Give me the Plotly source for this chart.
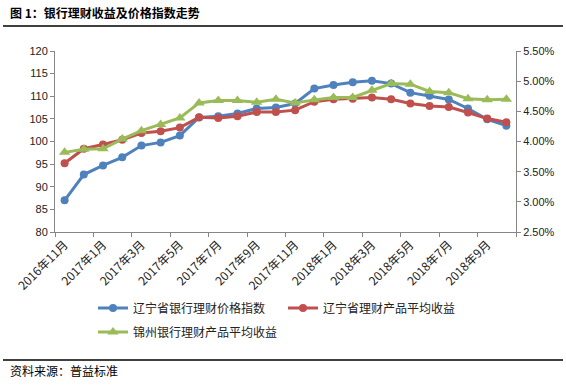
import plotly.graph_objects as go

months = ["2016年11月", "2016年12月",
          "2017年1月", "2017年2月", "2017年3月", "2017年4月", "2017年5月", "2017年6月",
          "2017年7月", "2017年8月", "2017年9月", "2017年10月", "2017年11月", "2017年12月",
          "2018年1月", "2018年2月", "2018年3月", "2018年4月", "2018年5月", "2018年6月",
          "2018年7月", "2018年8月", "2018年9月", "2018年10月"]

price_index = [87.0, 92.7, 94.7, 96.5, 99.1, 99.8, 101.3, 105.3, 105.6, 106.2, 107.3, 107.5,
               108.4, 111.7, 112.5, 113.1, 113.4, 112.8, 110.8, 110.1, 109.3, 107.3, 104.9, 103.5]

liaoning_yield = [3.64, 3.88, 3.95, 4.03, 4.14, 4.17, 4.23, 4.40, 4.39, 4.42, 4.49, 4.49,
                  4.52, 4.66, 4.70, 4.71, 4.73, 4.70, 4.63, 4.59, 4.57, 4.48, 4.38, 4.32]

jinzhou_yield = [3.82, 3.87, 3.88, 4.04, 4.18, 4.28, 4.39, 4.64, 4.68, 4.68, 4.65, 4.70,
                 4.64, 4.69, 4.73, 4.73, 4.85, 4.96, 4.95, 4.83, 4.81, 4.71, 4.69, 4.70]

tick_labels = months[::2]
series_names = ["辽宁省银行理财价格指数", "辽宁省理财产品平均收益", "锦州银行理财产品平均收益"]
colors = ["#4F81BD", "#C0504D", "#9BBB59"]

W, H = 566, 385
L, R, T, B = 55, 516, 51, 232


def px(x):
    return (x - L) / (R - L)


def py(y):
    return (B - y) / (B - T)


CJK = "Noto Sans CJK SC"
NUM = "Liberation Sans"

fig = go.Figure()
fig.add_trace(go.Scatter(x=months, y=price_index, name=series_names[0], mode="lines+markers",
                         line=dict(color=colors[0], width=3),
                         marker=dict(symbol="circle", size=8, color=colors[0]),
                         legend="legend"))
fig.add_trace(go.Scatter(x=months, y=liaoning_yield, name=series_names[1], mode="lines+markers",
                         line=dict(color=colors[1], width=3),
                         marker=dict(symbol="circle", size=8, color=colors[1]),
                         yaxis="y2", legend="legend"))
fig.add_trace(go.Scatter(x=months, y=jinzhou_yield, name=series_names[2], mode="lines+markers",
                         line=dict(color=colors[2], width=3),
                         marker=dict(symbol="triangle-up", size=10, color=colors[2]),
                         yaxis="y2", legend="legend2"))
# invisible trace for boundary tick marks
fig.add_trace(go.Scatter(x=[0], y=[None], xaxis="x2", showlegend=False, hoverinfo="skip"))

axis_col = "#868686"
fig.update_layout(
    width=W, height=H,
    margin=dict(l=L, r=W - R, t=T, b=H - B),
    paper_bgcolor="white", plot_bgcolor="white",
    showlegend=True,
    xaxis=dict(type="category", categoryorder="array", categoryarray=months,
               range=[-0.5, len(months) - 0.5],
               tickvals=tick_labels, ticktext=tick_labels, tickangle=-45,
               ticks="", showgrid=False, zeroline=False,
               showline=True, linecolor=axis_col, linewidth=1,
               tickfont=dict(family=CJK, size=12, color="#222")),
    xaxis2=dict(overlaying="x", range=[-0.5, len(months) - 0.5],
                tickvals=[i - 0.5 for i in range(0, len(months) + 1, 2)],
                ticks="outside", ticklen=4, tickcolor=axis_col, showticklabels=False,
                showgrid=False, zeroline=False, showline=False, anchor="y", side="bottom"),
    yaxis=dict(range=[80, 120], dtick=5, tick0=80, ticks="outside", ticklen=4, tickcolor=axis_col,
               showgrid=False, zeroline=False, showline=True, linecolor=axis_col, linewidth=1,
               tickfont=dict(family=NUM, size=11, color="#222")),
    yaxis2=dict(range=[2.5, 5.5], dtick=0.5, tick0=2.5, tickformat=".2f", ticksuffix="%",
                overlaying="y", side="right", ticks="outside", ticklen=4, tickcolor=axis_col,
                showgrid=False, zeroline=False, showline=True, linecolor=axis_col, linewidth=1,
                tickfont=dict(family=NUM, size=11, color="#222")),
    legend=dict(orientation="h", x=px(93), y=py(308), xanchor="left", yanchor="middle",
                font=dict(family=CJK, size=12, color="#222"), entrywidth=145,
                bgcolor="rgba(0,0,0,0)"),
    legend2=dict(orientation="h", x=px(93), y=py(332), xanchor="left", yanchor="middle",
                 font=dict(family=CJK, size=12, color="#222"),
                 bgcolor="rgba(0,0,0,0)"),
    shapes=[
        dict(type="line", xref="paper", yref="paper", x0=px(3), x1=px(563), y0=py(26), y1=py(26),
             line=dict(color="black", width=1.5)),
        dict(type="line", xref="paper", yref="paper", x0=px(3), x1=px(563), y0=py(360), y1=py(360),
             line=dict(color="black", width=1.5)),
    ],
    annotations=[
        dict(text="<b>图 1：银行理财收益及价格指数走势</b>", xref="paper", yref="paper",
             x=px(8), y=py(12), xanchor="left", yanchor="middle", showarrow=False,
             font=dict(family=CJK, size=12, color="black")),
        dict(text="资料来源：普益标准", xref="paper", yref="paper",
             x=px(8), y=py(370), xanchor="left", yanchor="middle", showarrow=False,
             font=dict(family=CJK, size=12, color="black")),
    ],
)

fig.write_html("out.html", config={"displayModeBar": False},
               post_script="document.body.style.margin='0';document.body.style.overflow='hidden';")
